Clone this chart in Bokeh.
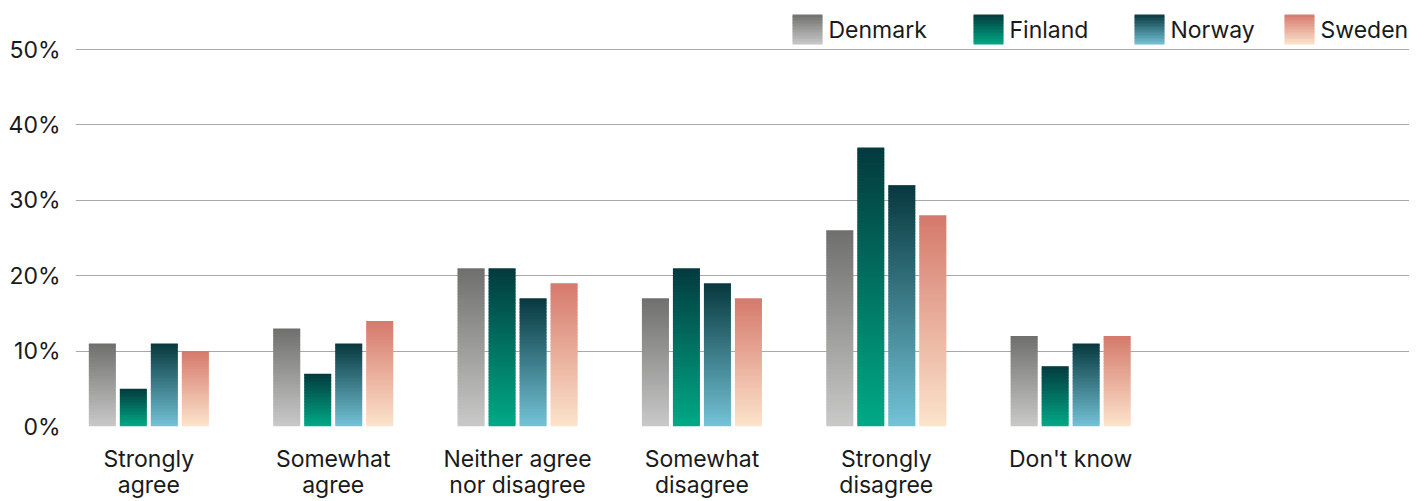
from bokeh.plotting import figure
from bokeh.models import ColumnDataSource, FixedTicker, Range1d
from bokeh.embed import file_html
from bokeh.resources import INLINE
from bokeh.core.properties import value

# ---------------- data ----------------
categories = ["Strongly\nagree", "Somewhat\nagree", "Neither agree\nnor disagree",
              "Somewhat\ndisagree", "Strongly\ndisagree", "Don't know"]
countries = ["Denmark", "Finland", "Norway", "Sweden"]
denmark = [11, 13, 21, 17, 26, 12]
finland = [5, 7, 21, 21, 37, 8]
norway = [11, 11, 17, 19, 32, 11]
sweden = [10, 14, 19, 17, 28, 12]
series = [denmark, finland, norway, sweden]
y_ticks = [0, 10, 20, 30, 40, 50]
y_tick_labels = ["0%", "10%", "20%", "30%", "40%", "50%"]
top_colors = ["#6f6f6d", "#033a3e", "#07383e", "#d5796b"]
bottom_colors = ["#c9c9c9", "#00aa86", "#74c3d7", "#fce4cc"]

# ---------------- layout ----------------
FONT = "Inter"
FS = "23px"
TEXT_COLOR = "#1a1a1a"
PAGE_X, PAGE_Y = 0, 0          # where the figure lands in the screenshot
W, H = 1409, 501
FRAME_LEFT_PAGE, FRAME_RIGHT_PAGE = 75, 1409
FRAME_BOTTOM_PAGE = 426
BL = FRAME_LEFT_PAGE - PAGE_X
BR = W - (FRAME_RIGHT_PAGE - PAGE_X)
BT = 0
BB = H - (FRAME_BOTTOM_PAGE - PAGE_Y)
PX_PER_CAT = 184.36
FIRST_CAT_PAGE = 148.35
X_START = (FRAME_LEFT_PAGE - FIRST_CAT_PAGE) / PX_PER_CAT
X_END = X_START + (FRAME_RIGHT_PAGE - FRAME_LEFT_PAGE) / PX_PER_CAT
FRAME_H = H - BT - BB
PX_PER_UNIT = 377 / 50.0
Y_END = FRAME_H / PX_PER_UNIT
BAR_W = 27 / PX_PER_CAT
BAR_STEP = 31 / PX_PER_CAT
SEG_PX = 3


def hex2rgb(h):
    h = h.lstrip("#")
    return tuple(int(h[i:i + 2], 16) for i in (0, 2, 4))


def mix(c0, c1, t):
    a, b = hex2rgb(c0), hex2rgb(c1)
    return "#%02x%02x%02x" % tuple(int(round(a[i] + (b[i] - a[i]) * t)) for i in range(3))


def gradient_quads(lefts, rights, bottoms, tops, c_bottom, c_top):
    L, R, B, T, C = [], [], [], [], []
    seg = SEG_PX / PX_PER_UNIT
    for l, r, b, t in zip(lefts, rights, bottoms, tops):
        y0 = b
        while y0 < t - 1e-9:
            y1 = min(t, y0 + seg * 1.34)
            L.append(l); R.append(r); B.append(y0); T.append(y1)
            C.append(mix(c_bottom, c_top, min(1.0, (y0 + seg / 2 - b) / (t - b))))
            y0 += seg
    return dict(left=L, right=R, bottom=B, top=T, color=C)


p = figure(width=W, height=H, output_backend="svg", toolbar_location=None,
           x_range=Range1d(X_START, X_END), y_range=Range1d(0, Y_END),
           min_border_left=BL, min_border_right=BR, min_border_top=BT, min_border_bottom=BB)
p.outline_line_color = None
p.background_fill_color = "white"
p.border_fill_color = "white"

# bars with vertical gradient
for si, vals in enumerate(series):
    offset = (si - 1.5) * BAR_STEP
    xs = [i + offset for i in range(len(vals))]
    data = gradient_quads([x - BAR_W / 2 for x in xs], [x + BAR_W / 2 for x in xs],
                          [0] * len(vals), vals, bottom_colors[si], top_colors[si])
    p.quad(left="left", right="right", bottom="bottom", top="top", fill_color="color",
           line_color=None, source=ColumnDataSource(data))


# legend (gradient swatches + text), placed in the top strip above 50%
def px2x(px):
    return X_START + (px - FRAME_LEFT_PAGE) / PX_PER_CAT


def py2y(py):
    return (FRAME_BOTTOM_PAGE - py) / PX_PER_UNIT


legend_px = [792, 973, 1134, 1284]
for si, name in enumerate(countries):
    lx = legend_px[si]
    data = gradient_quads([px2x(lx)], [px2x(lx + 30)], [py2y(44)], [py2y(14)],
                          bottom_colors[si], top_colors[si])
    p.quad(left="left", right="right", bottom="bottom", top="top", fill_color="color",
           line_color=None, source=ColumnDataSource(data))
    p.text(x=[px2x(lx + 36)], y=[py2y(29)], text=[name], text_font=value(FONT),
           text_font_size=FS, text_color=TEXT_COLOR, text_baseline="middle",
           text_align="left")

# axes
p.xaxis.ticker = FixedTicker(ticks=list(range(len(categories))))
p.xaxis.major_label_overrides = {i: c for i, c in enumerate(categories)}
p.xaxis.axis_line_color = None
p.xaxis.major_tick_line_color = None
p.xaxis.minor_tick_line_color = None
p.xaxis.major_label_text_font = FONT
p.xaxis.major_label_text_font_size = FS
p.xaxis.major_label_text_color = TEXT_COLOR
p.xaxis.major_label_text_line_height = 0.935
p.xaxis.major_label_standoff = 12

p.yaxis.ticker = FixedTicker(ticks=y_ticks)
p.yaxis.major_label_overrides = {t: l for t, l in zip(y_ticks, y_tick_labels)}
p.yaxis.axis_line_color = None
p.yaxis.major_tick_line_color = None
p.yaxis.minor_tick_line_color = None
p.yaxis.major_label_text_font = FONT
p.yaxis.major_label_text_font_size = FS
p.yaxis.major_label_text_color = TEXT_COLOR
p.yaxis.major_label_standoff = 9

p.xgrid.grid_line_color = None
p.ygrid.ticker = FixedTicker(ticks=y_ticks)
p.ygrid.grid_line_color = "#a8a8a8"
p.ygrid.grid_line_width = 1
p.ygrid.level = "underlay"

open("out.html", "w").write(file_html(p, INLINE))
